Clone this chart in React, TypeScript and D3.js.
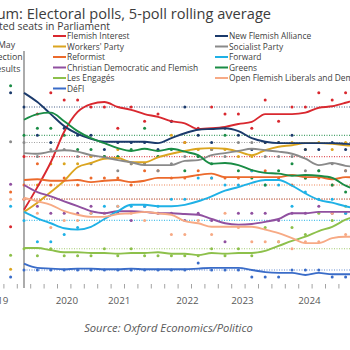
import React from "react";
import * as d3 from "d3";

// party names in legend order (col 1 then col 2)
const parties = [
  "Flemish Interest",
  "Workers' Party",
  "Reformist",
  "Christian Democratic and Flemish",
  "Les Engagés",
  "DéFI",
  "New Flemish Alliance",
  "Socialist Party",
  "Forward",
  "Greens",
  "Open Flemish Liberals and Democrats",
];
const colors = [
  "#d9282f", "#dba520", "#ec6a2c", "#9050a0", "#8dc04b", "#3a6cc8",
  "#1b3a6b", "#8a8a8a", "#1fb1e6", "#1a8c45", "#f7aa85",
];

// 2019 result (dotted reference lines)
const electionSeats = [18, 12, 14, 12, 5, 2, 25, 20, 9, 21, 12];
// left column dots
const sideColumn = [8.1, 2.1, 13, 14.1, 4.1, 1, 27, 20.1, 11, 28, 12];

// 5-poll rolling averages
const avgFI = [10.5, 13.7, 17.2, 21.5, 24.3, 25.4, 25.7, 25.0, 24.6, 24.0, 23.6, 23.0, 22.7, 21.9, 22.0, 22.2, 22.6, 22.9, 24.0, 24.0, 24.0, 24.2, 24.9, 25.1, 25.6, 26.2];
const avgPTB = [10.2, 11.5, 13.0, 14.6, 16.5, 17.1, 17.7, 17.8, 17.2, 17.2, 17.9, 18.4, 18.8, 19.1, 19.2, 19.1, 18.7, 18.2, 18.9, 19.4, 19.6, 19.9, 19.9, 19.8, 19.6, 19.5];
const avgMR = [14.7, 14.8, 14.6, 14.6, 14.7, 14.4, 14.6, 14.7, 14.4, 14.6, 15.0, 15.0, 15.1, 15.4, 15.6, 15.1, 15.1, 15.1, 15.1, 15.1, 15.4, 15.1, 15.1, 14.8, 15.1, 15.0];
const avgCDV = [14.0, 13.0, 12.4, 11.7, 11.0, 10.3, 10.0, 10.3, 10.3, 10.2, 10.0, 10.0, 9.9, 9.8, 9.2, 8.6, 8.4, 8.5, 8.8, 9.2, 10.0, 10.0, 10.2, 10.2, 10.2, 10.2];
const avgEngages = [5.1, 5.1, 4.8, 4.5, 4.5, 4.4, 4.4, 4.3, 4.4, 4.4, 4.5, 4.3, 4.3, 4.1, 4.4, 4.3, 4.4, 4.4, 4.7, 5.4, 6.1, 6.7, 7.5, 8.1, 9.1, 9.8];
const avgDefi = [2.9, 2.3, 2.2, 2.1, 2.2, 2.2, 2.1, 2.1, 2.2, 2.1, 2.1, 2.1, 2.1, 2.2, 2.3, 2.3, 2.3, 2.0, 1.7, 1.6, 1.6, 1.3, 1.6, 1.4, 1.4, 1.4];
const avgNVA = [27.0, 25.7, 24.0, 22.3, 21.2, 20.5, 20.1, 20.1, 20.1, 20.1, 19.9, 20.6, 21.3, 21.8, 21.9, 22.0, 21.6, 20.6, 20.1, 19.9, 19.9, 19.9, 19.9, 19.9, 19.8, 19.7];
const avgPS = [18.5, 18.4, 18.7, 18.9, 18.7, 18.2, 17.9, 17.5, 17.2, 16.8, 16.8, 16.8, 17.4, 17.5, 18.2, 18.5, 18.8, 19.1, 18.9, 18.7, 18.4, 17.7, 16.8, 17.1, 16.7, 16.5];
const avgVooruit = [10.2, 9.3, 8.6, 7.9, 7.7, 8.1, 9.2, 10.3, 11.2, 11.2, 11.0, 11.0, 11.2, 11.7, 12.4, 13.2, 13.7, 14.3, 14.7, 14.7, 13.9, 12.8, 11.9, 11.5, 11.0, 10.6];
const avgGreens = [23.2, 24.0, 24.2, 23.0, 21.6, 20.6, 19.9, 19.2, 18.8, 19.1, 18.8, 19.1, 18.7, 18.2, 17.0, 17.1, 16.8, 16.1, 15.7, 15.6, 15.3, 15.4, 15.3, 15.0, 13.9, 13.2];
const avgVLD = [12.2, 11.7, 11.2, 10.3, 9.8, 9.5, 9.5, 9.9, 10.0, 10.2, 10.0, 9.8, 8.9, 8.6, 8.1, 8.1, 8.1, 8.1, 7.7, 7.2, 6.5, 5.8, 5.8, 6.5, 6.7, 6.7];

// individual polls (seats)
const pollFI = [18, 24, 27, 26, 26, 25, 25, 22, 25, 23, 24, 23, 20, 22, 25, 24, 24, 22, 26, 23, 25, 25, 27, 26, 27];
const pollPTB = [12, 14, 17, 17, 17, 18, 18, 19, 17, 17, 18, 21, 20, 19, 19, 19, 18, 18, 20, 20, 20, 19, 20, 19, 20];
const pollMR = [14, 17, 14, 15, 14, 15, 15, 15, 14, 16, 16, 15, 15, 16, 15, 15, 15, 16, 16, 15, 14, 15, 15, 14, 16];
const pollCDV = [12, 11, 10, 10, 10, 11, 10, 10, 9, 11, 10, 10, 9, 10, 9, 6, 10, 10, 10, 9, 10, 10, 11, 10, 10];
const pollEngages = [5, 4, 5, 4, 4, 4, 5, 4, 5, 4, 4, 4, 4, 4, 5, 4, 5, 4, 8, 6, 8, 7, 10, 9, 11];
const pollDefi = [2, 2, 2, 2, 2, 2, 2, 2, 2, 2, 2, 2, 2, 3, 2, 2, 2, 1, 1, 1, 2, 2, 2, 1, 1];
const pollNVA = [25, 21, 20, 22, 21, 21, 19, 20, 20, 20, 19, 23, 25, 21, 20, 22, 21, 19, 20, 20, 21, 19, 19, 20, 19];
const pollPS = [20, 18, 19, 19, 18, 17, 18, 16, 17, 17, 16, 17, 18, 18, 19, 18, 20, 20, 18, 18, 18, 16, 16, 17, 16];
const pollVooruit = [9, 6, 6, 7, 8, 10, 11, 11, 11, 11, 11, 12, 12, 15, 15, 14, 14, 16, 14, 14, 11, 13, 12, 12, 10];
const pollGreens = [21, 22, 22, 21, 19, 19, 18, 18, 19, 22, 18, 19, 16, 18, 17, 21, 16, 15, 14, 16, 17, 15, 16, 14, 13];
const pollVLD = [12, 10, 8, 9, 9, 10, 10, 11, 10, 9, 10, 7, 7, 9, 7, 10, 8, 6, 6, 6, 5, 6, 6, 10, 7];

const averages = [avgFI, avgPTB, avgMR, avgCDV, avgEngages, avgDefi, avgNVA, avgPS, avgVooruit, avgGreens, avgVLD];
const polls = [pollFI, pollPTB, pollMR, pollCDV, pollEngages, pollDefi, pollNVA, pollPS, pollVooruit, pollGreens, pollVLD];

// x axis labels, positions in poll-index units
const yearLabels = ["2019", "2020", "2021", "2022", "2023", "2024"];
const yearPos = [-2.0, 3.2, 7.1, 12.2, 16.3, 21.3];

const FONT = "'Open Sans', sans-serif";

export default function App() {
  const width = 350;
  const height = 350;

  const x = d3.scaleLinear().domain([0, 24]).range([24, 345.6]);
  const y = d3.scaleLinear().domain([0, 25]).range([284.2, 107]);

  const line = d3
    .line<number>()
    .x((_, i) => x(i))
    .y((d) => y(d))
    .curve(d3.curveMonotoneX);

  const ticks = d3.range(-2.5, 25, 1);

  const series = parties.map((name, k) => ({
    name,
    color: colors[k],
    avg: averages[k],
    polls: polls[k],
    election: electionSeats[k],
    side: sideColumn[k],
  }));

  return (
    <svg
      width={width}
      height={height}
      style={{ position: "absolute", left: 0, top: 0, background: "#fff" }}
      fontFamily={FONT}
    >
      <text x={271} y={18.5} textAnchor="end" fontSize={14.6} fill="#3c3c3c">
        Belgium: Electoral polls, 5-poll rolling average
      </text>
      <text x={110} y={29.5} textAnchor="end" fontSize={10.4} fill="#3c3c3c">
        Projected seats in Parliament
      </text>

      {/* legend */}
      {series.map((s, k) => {
        const col = k < 6 ? 0 : 1;
        const row = col === 0 ? k : k - 6;
        const lx = col === 0 ? 53 : 215;
        const ly = 36 + row * 10.5;
        return (
          <g key={s.name}>
            <line x1={lx} x2={lx + 13} y1={ly} y2={ly} stroke={s.color} strokeWidth={2} />
            <text x={lx + 14} y={ly + 3.1} fontSize={8.4} fill="#404040">
              {s.name}
            </text>
          </g>
        );
      })}

      {/* side label */}
      {["May", "election", "results"].map((t, i) => (
        <text key={t} x={6.5} y={47.5 + i * 12.3} textAnchor="middle" fontSize={8.8} fill="#404040">
          {t}
        </text>
      ))}

      {/* election reference lines */}
      {series.map((s) => (
        <line
          key={"ref" + s.name}
          x1={x(0)}
          x2={width}
          y1={y(s.election)}
          y2={y(s.election)}
          stroke={s.color}
          strokeWidth={1.1}
          strokeDasharray="1 1.5"
          opacity={0.8}
        />
      ))}

      {/* axis */}
      <line x1={x(0)} x2={x(0)} y1={51} y2={288} stroke="#7f7f7f" strokeWidth={1.3} />
      {ticks.map((t) => (
        <line key={t} x1={x(t)} x2={x(t)} y1={284} y2={288.5} stroke="#8c8c8c" strokeWidth={0.8} />
      ))}
      {yearLabels.map((t, i) => (
        <text key={t} x={x(yearPos[i])} y={304} textAnchor="middle" fontSize={9.8} fill="#595959">
          {t}
        </text>
      ))}

      {/* poll dots */}
      {series.map((s) => (
        <g key={"dots" + s.name} fill={s.color}>
          <circle cx={x(-1)} cy={y(s.side)} r={1.5} />
          {s.polls.map((v, i) => (
            <circle key={i} cx={x(i)} cy={y(v)} r={1.5} />
          ))}
        </g>
      ))}

      {/* rolling averages */}
      {series.map((s) => (
        <path key={"avg" + s.name} d={line(s.avg) || ""} fill="none" stroke={s.color} strokeWidth={1.9} />
      ))}

      <text x={168.5} y={332} textAnchor="middle" fontSize={11.2} fontStyle="italic" fill="#595959">
        Source: Oxford Economics/Politico
      </text>
    </svg>
  );
}
